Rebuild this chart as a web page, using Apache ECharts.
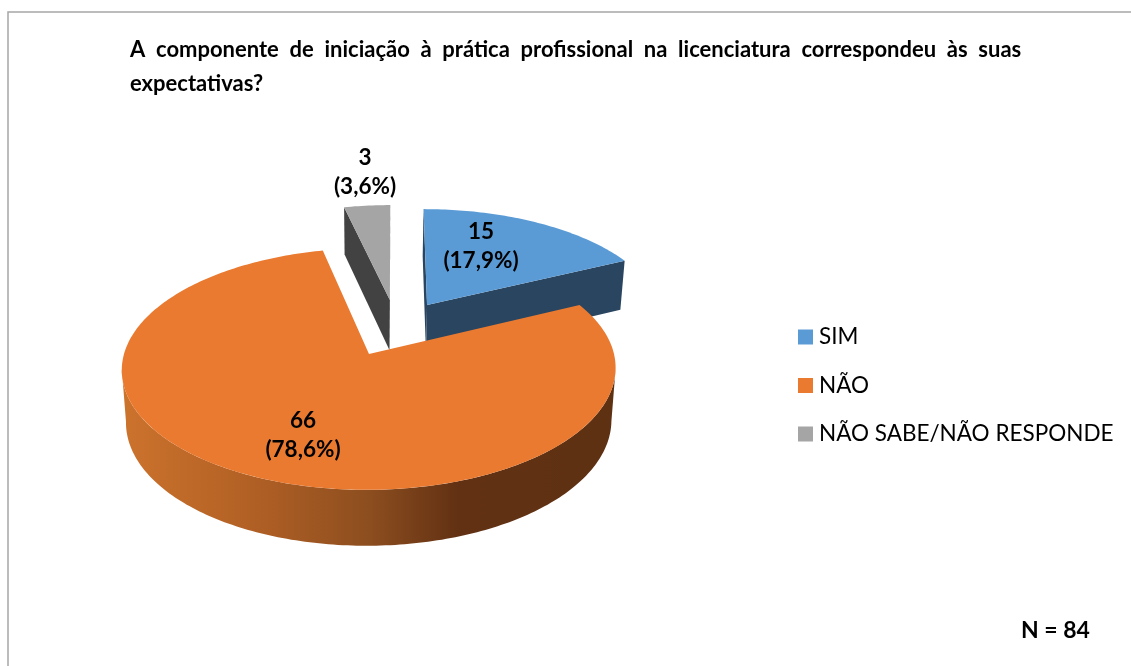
<!DOCTYPE html>
<html><head><meta charset="utf-8">
<style>html,body{margin:0;padding:0;background:#fff}#c{width:1131px;height:666px}</style>
<script src="https://cdn.jsdelivr.net/npm/echarts@6/dist/echarts.min.js"></script>
</head><body><div id="c"></div>
<script>
const categories = ['SIM', 'NÃO', 'NÃO SABE/NÃO RESPONDE'];
const values = [15, 66, 3];
const sampleSize = 'N = 84';
const titleLines = ['A  componente  de  iniciação  à  prática  profissional  na  licenciatura  correspondeu  às  suas', 'expectativas?'];

const FONT = 'Lato, Carlito, "Open Sans", sans-serif';
const topColors = ['#5b9bd5', '#ea7a30', '#a5a5a5'];
const wallColors = ['#2a4560', null, '#424242'];
const explode = [[0.245, 0.434], [0, 0], [0.085, 0.481]];
const labelPos = [[481, 246], [303, 435], [365, 172]];
const drawOrder = [2, 3, 1];
const P = {cx: 369, cy: 354, a: 245, b: 119, p: 0.124, skew: 2.5, depth: 52, q: 0.07, shrink: 0.983};

const total = values.reduce((s, v) => s + v, 0);
const startDeg = [];
values.reduce((acc, v, i) => { startDeg[i] = acc; return acc + v / total * 360; }, 0);
const frontStart = Math.acos(-P.p) * 180 / Math.PI, frontEnd = 360 - frontStart;

function project(u, v, low) {
  const d = 1 + P.p * v;
  const k = low ? P.shrink : 1;
  return [P.cx + k * P.a * u / d + P.skew * v, P.cy - P.b * v / d + (low ? P.depth / (1 + P.q * v) : 0)];
}
function rimPoint(i, deg, low) {
  const t = deg * Math.PI / 180;
  return project(explode[i][0] + Math.sin(t), explode[i][1] + Math.cos(t), low);
}
function rim(i, from, to, low) {
  const pts = [];
  const n = Math.max(2, Math.ceil(to - from));
  for (let k = 0; k <= n; k++) pts.push(rimPoint(i, from + (to - from) * k / n, low));
  return pts;
}
function labelText(v) {
  return v + '\n(' + (v / total * 100).toFixed(1).replace('.', ',') + '%)';
}
const orangeWall = new echarts.graphic.LinearGradient(0, 0, 1, 0, [
  {offset: 0, color: '#cc732d'},
  {offset: 0.25, color: '#b36125'},
  {offset: 0.5, color: '#8d4e1f'},
  {offset: 0.68, color: '#623113'},
  {offset: 1, color: '#5e3113'}
]);
function renderSlice(params, api) {
  const i = params.seriesIndex;
  const val = api.value(0);
  const from = startDeg[i], to = from + val / total * 360;
  const apexT = project(explode[i][0], explode[i][1], false);
  const apexB = project(explode[i][0], explode[i][1], true);
  const wallFill = wallColors[i] || orangeWall;
  const children = [];
  const wall = pts => children.push({type: 'polygon', shape: {points: pts}, style: {fill: wallFill}});
  const arcT = rim(i, from, to, false), arcB = rim(i, from, to, true);
  const a0 = Math.max(from, frontStart), a1 = Math.min(to, frontEnd);
  if (a1 > a0) wall(rim(i, a0, a1, false).concat(rim(i, a0, a1, true).reverse()));
  if (wallColors[i]) {
    wall([apexT, arcT[0], arcB[0], apexB]);
    wall([apexT, arcT[arcT.length - 1], arcB[arcB.length - 1], apexB]);
  }
  children.push({type: 'polygon', shape: {points: [apexT].concat(arcT)}, style: {fill: topColors[i]}});
  children.push({type: 'text', x: labelPos[i][0], y: labelPos[i][1], style: {
    text: labelText(val), fill: '#000', font: 'bold 22.5px ' + FONT,
    align: 'center', verticalAlign: 'middle', lineHeight: 29.5
  }});
  return {type: 'group', children};
}

const chart = echarts.init(document.getElementById('c'), null, {renderer: 'canvas'});
chart.setOption({
  animation: false,
  backgroundColor: '#fff',
  title: {
    text: titleLines.join('\n'), left: 130, top: 33, padding: 0,
    textStyle: {fontFamily: FONT, fontWeight: 'bold', fontSize: 22, lineHeight: 34, color: '#000'}
  },
  legend: {
    orient: 'vertical', left: 798, top: 323, padding: 0, itemWidth: 15, itemHeight: 15, itemGap: 20.5,
    selectedMode: false, icon: 'rect', data: categories,
    textStyle: {fontFamily: FONT, fontSize: 22.5, color: '#000', padding: [0, 0, 0, 1], lineHeight: 28}
  },
  graphic: [
    {type: 'rect', shape: {x: 8, y: 12, width: 1300, height: 800}, style: {fill: 'none', stroke: '#a6a6a6', lineWidth: 1.5}, silent: true, z: -1},
    {type: 'text', x: 1021, y: 631, style: {text: sampleSize, fill: '#000', font: 'bold 23px ' + FONT, verticalAlign: 'middle'}}
  ],
  series: categories.map((name, i) => ({
    type: 'custom', name, coordinateSystem: 'none', z: drawOrder[i],
    itemStyle: {color: topColors[i]}, data: [values[i]], renderItem: renderSlice
  }))
});
</script></body></html>
